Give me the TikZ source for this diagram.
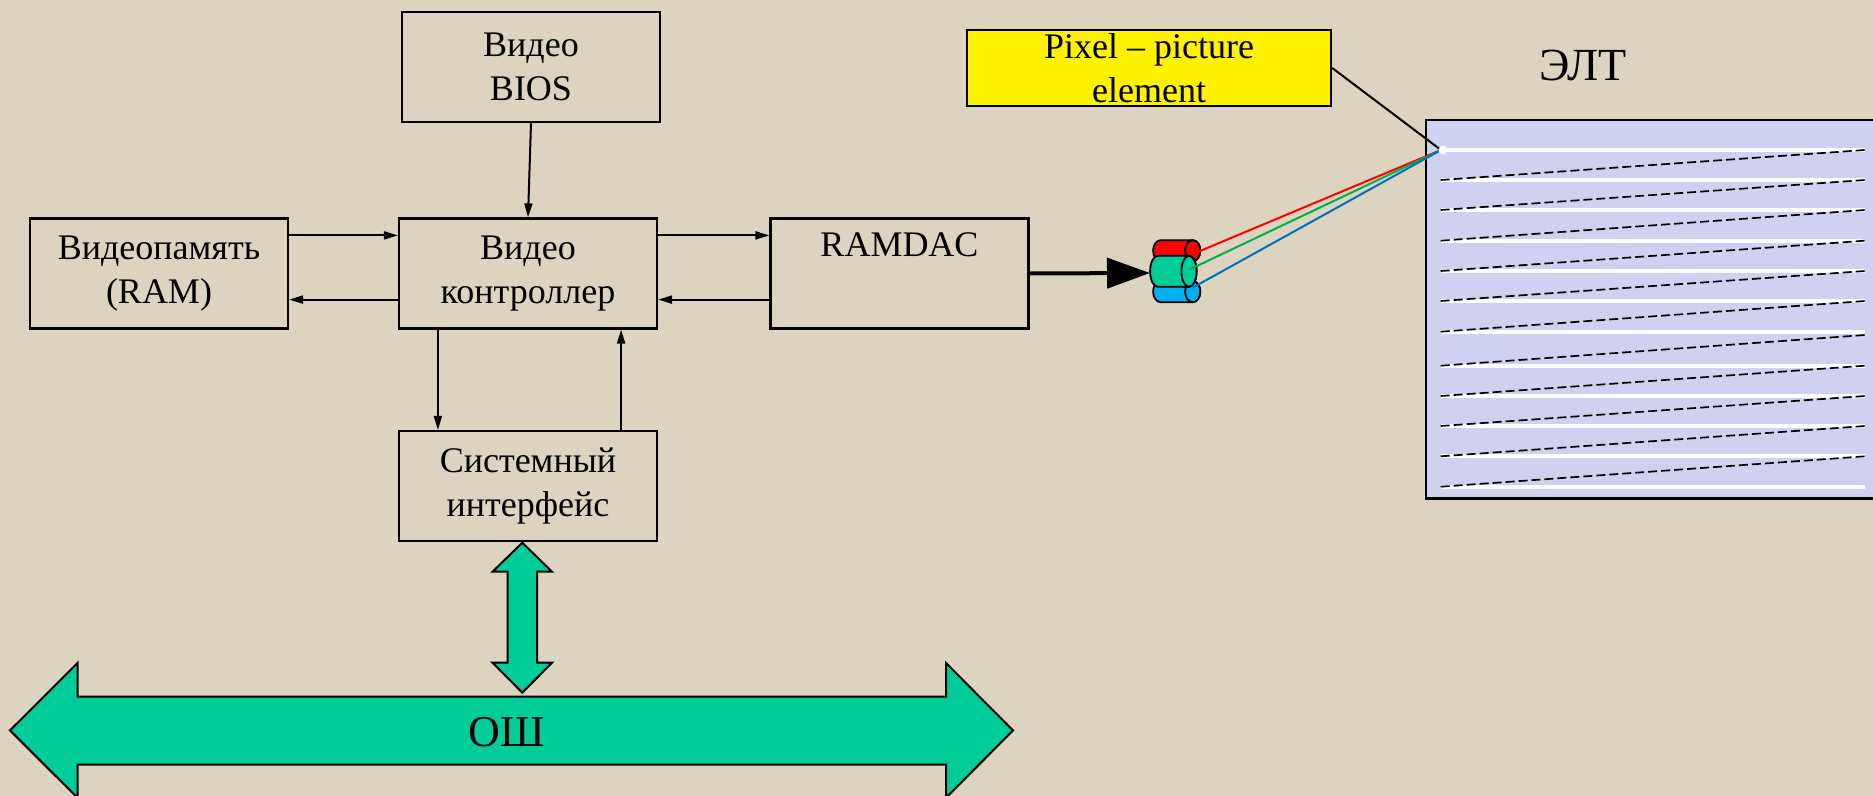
\documentclass[tikz,border=0pt]{standalone}
\usepackage{fontspec}
\setmainfont{Liberation Serif}
\usepackage{tikz}
\usetikzlibrary{arrows.meta,calc}
\definecolor{paper}{RGB}{221,212,191}
\definecolor{busgreen}{RGB}{0,204,153}
\definecolor{screenblue}{RGB}{208,208,240}
\definecolor{gunblue}{RGB}{0,176,240}
\definecolor{beamgreen}{RGB}{0,176,80}
\definecolor{beamblue}{RGB}{0,112,192}

\begin{document}
\begin{tikzpicture}[x=0.5pt,y=-0.5pt,
  blok/.style={draw,line width=1.1pt,minimum width=129pt,minimum height=55pt,inner sep=0pt,align=center,font=\fontsize{18}{22}\selectfont,execute at begin node=\rule{0pt}{17.5pt}},
  pil/.style={line width=1pt,-{Triangle[length=7pt,width=4pt]}},
  bus/.style={draw=black,line width=1pt,fill=busgreen,line join=miter}]
\fill[paper] (0,0) rectangle (1873,796);
\useasboundingbox (0,0) rectangle (1873,796);

\node[blok] (bios) at (531,67) {Видео\\BIOS};
\node[blok] (ram) at (159,273.5) {Видеопамять\\(RAM)};
\node[blok] (ctrl) at (528,273.5) {Видео\\контроллер};
\node[blok] (ramdac) at (899.5,273.5) {RAMDAC\\\strut};
\node[blok] (sys) at (528,486) {Системный\\интерфейс};

\draw[pil] (bios.south) -- (ctrl.north);
\draw[pil] ([yshift=-9pt]ram.north east) -- ([yshift=-9pt]ctrl.north west);
\draw[pil] ([yshift=15pt]ctrl.south west) -- ([yshift=15pt]ram.south east);
\draw[pil] ([yshift=-9pt]ctrl.north east) -- ([yshift=-9pt]ramdac.north west);
\draw[pil] ([yshift=15pt]ramdac.south west) -- ([yshift=15pt]ctrl.south east);
\draw[pil] ([xshift=20pt]ctrl.south west) -- ([xshift=20pt]sys.north west);
\draw[pil] ([xshift=-18.5pt]sys.north east) -- ([xshift=-18.5pt]ctrl.south east);

% shina
\draw[bus] (10,730.4) -- (77.5,663) -- (77.5,696.5) -- (946,696.5) -- (946,663) -- (1013,730.4)
  -- (946,797.8) -- (946,764.5) -- (77.5,764.5) -- (77.5,797.8) -- cycle;
\node[font=\fontsize{22}{26}\selectfont] (osh) at (507,732) {ОШ};
\coordinate (ushi) at (522.3,542.7);
\coordinate (ulo) at (522.3,692.7);
\draw[bus] (ushi) -- ($(ushi)+(29.7,29)$) -- ($(ushi)+(14.7,29)$) -- ($(ulo)+(14.7,-30)$)
  -- ($(ulo)+(29.7,-30)$) -- (ulo) -- ($(ulo)+(-29.7,-30)$) -- ($(ulo)+(-14.7,-30)$)
  -- ($(ushi)+(-14.7,29)$) -- ($(ushi)+(-29.7,29)$) -- cycle;

% pushki
\coordinate (gun) at (1150,273);
\draw[line width=2pt,-{Triangle[length=21.5pt,width=15pt]}] (ramdac.east) -- (gun);
\foreach \xa/\xb/\yc/\ry/\farbe in {1160.7/1192.7/250.7/10.5/red,1160.7/1192.7/291.7/10.5/gunblue,1157.7/1189/271.3/15.5/busgreen}
{
  \draw[line width=0.9pt,fill=\farbe] (\xb,\yc-\ry) arc[start angle=90,end angle=-90,x radius=3.8pt,y radius=\ry*0.5pt]
    -- (\xa,\yc+\ry) arc[start angle=270,end angle=90,x radius=3.8pt,y radius=\ry*0.5pt] -- cycle;
  \draw[line width=0.9pt,fill=\farbe] (\xb,\yc) ellipse[x radius=3.8pt,y radius=\ry*0.5pt];
}

% ekran
\fill[screenblue] (1426,120) rectangle (1880,498.3);
\draw[line width=1.2pt] (1880,120) -- (1426,120) -- (1426,498.3) -- (1880,498.3);
\foreach \y in {150,180,210,240.7,271,301,331.7,365.7,396,426,456.3,486.7}
  \draw[white,line width=2pt] (1440.7,\y) -- (1865,\y);
\foreach \a/\b in {150/180,180/210,210/240.7,240.7/271,271/301,301/331.7,335/365.7,365.7/396,396/426,426/456.3,456.3/486.7}
  \draw[line width=0.85pt,dash pattern=on 4.5pt off 2pt] (1440.7,\b) -- (1865,\a);
\node[font=\fontsize{23}{27}\selectfont] (elt) at (1583,66) {ЭЛТ};

\coordinate (pix) at (1441,150);
\coordinate (rstart) at (1198.3,251.7);
\coordinate (gstart) at (1190,269.3);
\coordinate (bstart) at (1193.3,287.3);
\draw[red,line width=1pt] (rstart) -- (pix);
\draw[beamgreen,line width=1pt] (gstart) -- (pix);
\draw[beamblue,line width=1pt] (bstart) -- (pix);

\node[draw,fill=yellow,line width=1.2pt,minimum width=182pt,minimum height=38pt,inner sep=0pt,align=center,font=\fontsize{18}{22}\selectfont] (pixlabel) at (1149,68) {Pixel – picture\\element};
\draw[line width=1pt] (pixlabel.east) -- (pix);
\fill[white] (1443,150) circle[radius=2.2pt];
\end{tikzpicture}
\end{document}
